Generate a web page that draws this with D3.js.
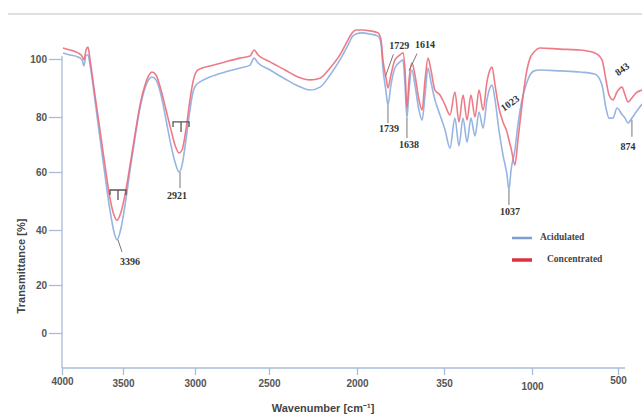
<!DOCTYPE html>
<html>
<head>
<meta charset="utf-8">
<script src="https://cdn.jsdelivr.net/npm/d3@7"></script>
<style>
  body { margin: 0; background: #fff; }
  svg { display: block; }
</style>
</head>
<body>
<div id="chart"></div>
<script>
// wavenumber (cm-1) sampled along the spectra
const wavenumbers = [3992,3934,3869,3836,3820,3803,3787,3770,3730,3689,
  3648,3607,3574,3549,3516,3486,3451,3417,3382,3347,
  3319,3299,3271,3236,3201,3167,3139,3111,3090,3063,
  3035,3014,2993,2966,2899,2797,2696,2628,2601,2574,
  2494,2409,2335,2267,2210,2153,2097,2051,2028,2006,
  1971,1925,1879,1862,1851,1833,1822,1805,1782,1753,
  1736,1724,1713,1701,1684,1667,1644,1626,1609,1592,
  1575,1552,1523,1494,1466,1438,1415,1392,1369,1347,
  1324,1301,1278,1256,1239,1227,1210,1188,1165,1142,
  1131,1119,1097,1080,1057,1034,1011,988,953,837,
  721,634,593,570,552,529,506,477,459,442,
  419,395,360];

// transmittance (%) - acid sample (blue)
const acidT = [102.1,101.4,100.7,99.7,97.6,101.4,101.4,97.9,85.9,72.4,
  59.0,46.9,39.3,36.4,40.7,48.6,60.7,72.4,83.1,90.0,
  93.1,93.8,92.8,87.6,78.9,69.8,63.6,60.0,62.5,71.6,
  82.4,88.6,91.0,92.1,93.8,95.5,96.9,97.9,100.3,98.6,
  96.2,93.1,90.7,89.3,90.3,94.5,99.7,104.8,107.6,108.6,
  109.0,108.6,107.9,105.2,96.9,88.6,84.1,91.0,96.9,99.0,
  99.7,91.0,79.6,89.3,96.2,91.0,82.4,78.9,87.6,96.9,
  92.1,85.9,80.7,75.3,68.7,79.6,69.5,79.6,70.9,79.6,
  73.1,81.7,76.0,85.9,90.0,91.0,85.9,75.3,66.2,59.0,
  53.8,60.7,68.0,77.1,85.9,91.0,94.5,95.9,96.2,95.9,
  95.5,94.8,91.0,83.1,79.6,79.6,83.1,80.9,79.6,77.8,
  79.6,81.7,84.5];

// transmittance (%) - concentrated sample (red)
const concT = [103.8,103.1,102.1,101.0,99.7,103.1,104.1,99.7,87.6,75.3,
  62.5,51.0,45.2,43.4,46.2,52.1,62.5,73.5,84.1,91.0,
  94.5,95.5,94.5,89.3,82.4,75.3,69.8,66.9,68.0,75.3,
  85.9,92.1,95.5,96.6,97.6,99.0,100.3,101.0,103.1,101.4,
  99.0,96.2,93.8,92.8,93.4,96.9,101.4,106.6,109.0,110.0,
  110.0,109.7,109.0,106.6,99.7,93.4,90.0,94.5,99.7,101.4,
  102.1,96.2,83.1,92.8,98.6,94.5,85.9,82.4,92.8,100.3,
  96.2,89.3,87.6,84.1,80.7,88.6,78.2,87.6,78.9,87.6,
  80.0,89.3,82.4,92.1,96.2,97.2,91.0,83.1,78.2,74.5,
  71.6,68.7,62.5,71.6,84.1,94.5,100.3,102.4,103.8,103.4,
  103.1,102.1,99.7,92.8,87.6,85.9,88.6,90.3,87.6,85.2,
  86.6,88.3,89.3];

const xTickValues = [4000, 3500, 3000, 2500, 2000, 1500, 1000, 500];
const xTickLabels = ["4000", "3500", "3000", "2500", "2000", "350", "1000", "500"];
const yTickValues = [0, 20, 40, 60, 80, 100];
const seriesNames = ["Acidulated", "Concentrated"];

// peak labels: text, wavenumber and transmittance of the point they mark
const peakText = ["3396", "2921", "1729", "1614", "1739", "1638", "1023", "1037", "843", "874"];
const peakWn   = [3541, 3104, 1837, 1701, 1822, 1713, 1114, 1131, 465, 419];
const peakT    = [36.4, 60.0, 94.0, 96.0, 84.1, 79.6, 83.8, 53.8, 95.5, 79.0];

var width = 642, height = 416;
var blue = "#97b5e2", red = "#ec6c7b", axisCol = "#a9bdd8";

var svg = d3.select("#chart").append("svg")
  .attr("width", width).attr("height", height);

// page header rule
svg.append("line").attr("x1", 8).attr("x2", width).attr("y1", 14).attr("y2", 14)
  .attr("stroke", "#d4d4d4").attr("stroke-width", 1.5);

// x axis has a scale change at 2000 cm-1
var x = d3.scaleLinear().domain(xTickValues).range([62, 123, 195, 269, 357, 444, 532, 618]);
var y = d3.scaleLinear().domain(yTickValues).range([333, 285, 230, 172, 117, 59]);

// axes
var xAxis = svg.append("g").attr("transform", "translate(0,368)")
  .call(d3.axisBottom(x).tickValues(xTickValues).tickSize(7)
    .tickFormat((d, i) => xTickLabels[i]));
xAxis.select(".domain").attr("d", "M62,0H625").attr("stroke", axisCol).attr("stroke-width", 1.3);
xAxis.selectAll(".tick line").attr("stroke", axisCol).attr("stroke-width", 1.3);
xAxis.selectAll(".tick text").attr("y", 13)
  .attr("dy", (d) => d === 1000 ? "0.9em" : d === 500 ? "0.25em" : d === 4000 ? "0.35em" : "0.55em")
  .style("font", "bold 10px 'Liberation Sans', Arial, sans-serif").attr("fill", "#555");

var yAxis = svg.append("g").attr("transform", "translate(62,0)")
  .call(d3.axisLeft(y).tickValues(yTickValues).tickSize(13));
yAxis.select(".domain").attr("d", "M0,56V368").attr("stroke", axisCol).attr("stroke-width", 1.3);
yAxis.selectAll(".tick line").attr("stroke", axisCol).attr("stroke-width", 1.3);
yAxis.selectAll(".tick text").attr("x", -15)
  .style("font", "bold 10px 'Liberation Sans', Arial, sans-serif").attr("fill", "#555");

// axis titles
svg.append("text")
  .attr("transform", "translate(25,266) rotate(-90)")
  .attr("text-anchor", "middle")
  .style("font", "bold 11px 'Liberation Sans', Arial, sans-serif").attr("fill", "#444")
  .text("Transmittance [%]");
svg.append("text")
  .attr("x", 323).attr("y", 412)
  .attr("text-anchor", "middle")
  .style("font", "bold 11px 'Liberation Sans', Arial, sans-serif").attr("fill", "#444")
  .text("Wavenumber [cm⁻¹]");

// spectra
var line = d3.line().curve(d3.curveMonotoneX);
function series(vals) { return wavenumbers.map((w, i) => [x(w), y(vals[i])]); }

svg.append("path").attr("d", line(series(acidT)))
  .attr("fill", "none").attr("stroke", blue).attr("stroke-width", 1.6);
svg.append("path").attr("d", line(series(concT)))
  .attr("fill", "none").attr("stroke", red).attr("stroke-width", 1.6).attr("opacity", 0.9);

// bracket marks on the two O-H / C-H bands
[[3541, 53.8], [3097, 78.2]].forEach(function (m) {
  var cx = x(m[0]), cy = y(m[1]);
  svg.append("path")
    .attr("d", `M${cx - 8},${cy + 5}V${cy}H${cx + 8}V${cy + 5}M${cx},${cy}V${cy + 10}`)
    .attr("fill", "none").attr("stroke", "#555").attr("stroke-width", 1.3);
});

// peak labels; [leader dx, leader dy, label dx, label dy, rotation]
var peakLayout = [
  [4, 12, 12, 25, 0],
  [0, 16, -3, 27, 0],
  [8, -22, 14, -27, 0],
  [8, -17, 16, -23, 0],
  [0, 18, 1, 27, 0],
  [0, 20, 2, 30, 0],
  [0, 0, 0, 0, -35],
  [0, 15, 1, 25, 0],
  [0, 0, 0, 0, -35],
  [0, 17, -4, 30, 0]
];
peakText.forEach(function (t, i) {
  var px = x(peakWn[i]), py = y(peakT[i]), L = peakLayout[i];
  if (L[0] || L[1]) {
    svg.append("line").attr("x1", px).attr("y1", py).attr("x2", px + L[0]).attr("y2", py + L[1])
      .attr("stroke", "#777").attr("stroke-width", 1);
  }
  svg.append("text")
    .attr("transform", `translate(${px + L[2]},${py + L[3]}) rotate(${L[4]})`)
    .attr("text-anchor", "middle")
    .style("font", "bold 10px 'Liberation Serif', 'Times New Roman', serif").attr("fill", "#333")
    .text(t);
});

// legend
var legend = svg.append("g");
[blue, red].forEach(function (c, i) {
  var ly = 238 + i * 22;
  legend.append("line").attr("x1", 512).attr("x2", 532).attr("y1", ly).attr("y2", ly)
    .attr("stroke", i ? "#e0303f" : "#7d9fd4").attr("stroke-width", i ? 3.5 : 2.5);
  legend.append("text").attr("x", 540 + i * 7).attr("y", ly + 1).attr("dy", "0.1em")
    .style("font", "bold 9.5px 'Liberation Serif', 'Times New Roman', serif").attr("fill", "#444")
    .text(seriesNames[i]);
});
</script>
</body>
</html>
